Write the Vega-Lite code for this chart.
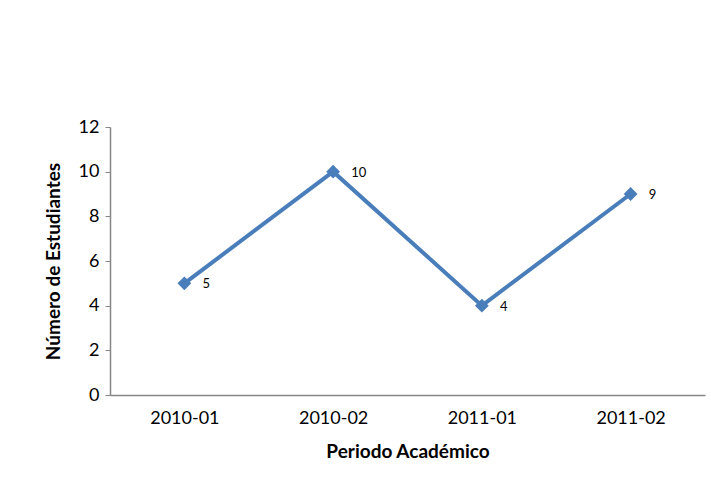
{
  "$schema": "https://vega.github.io/schema/vega-lite/v6.json",
  "width": 595,
  "height": 268,
  "padding": {"left": 110, "top": 127, "right": 6, "bottom": 97},
  "autosize": {"type": "none"},
  "background": "white",
  "config": {
    "view": {"stroke": null},
    "font": "Lato",
    "axis": {"labelFont": "Lato", "titleFont": "Lato", "labelColor": "#000000", "titleColor": "#000000", "domainColor": "#868686", "tickColor": "#868686", "grid": false}
  },
  "data": {"values": [
    {"periodo": "2010-01", "estudiantes": 5},
    {"periodo": "2010-02", "estudiantes": 10},
    {"periodo": "2011-01", "estudiantes": 4},
    {"periodo": "2011-02", "estudiantes": 9}
  ]},
  "encoding": {
    "x": {"field": "periodo", "type": "ordinal", "scale": {"type": "point", "padding": 0.5},
      "axis": {"title": "Periodo Académico", "labelAngle": 0, "ticks": false, "labelFontSize": 18, "labelPadding": 14, "titleFontSize": 19, "titleFontWeight": "bold", "titlePadding": 15, "domainWidth": 1.5}},
    "y": {"field": "estudiantes", "type": "quantitative", "scale": {"domain": [0, 12]},
      "axis": {"title": "Número de Estudiantes", "values": [0, 2, 4, 6, 8, 10, 12], "tickSize": 5, "labelFontSize": 18, "labelPadding": 6, "titleFontSize": 19, "titleFontWeight": "bold", "titlePadding": 15, "domainWidth": 1.5}}
  },
  "layer": [
    {"mark": {"type": "line", "color": "#4a7ebb", "strokeWidth": 4}},
    {"mark": {"type": "point", "shape": "diamond", "filled": true, "color": "#4a7ebb", "opacity": 1, "size": 190}},
    {"mark": {"type": "text", "align": "left", "dx": 18, "dy": 1, "fontSize": 13, "font": "Lato", "color": "#000000"},
      "encoding": {"text": {"field": "estudiantes", "type": "quantitative"}}}
  ]
}
